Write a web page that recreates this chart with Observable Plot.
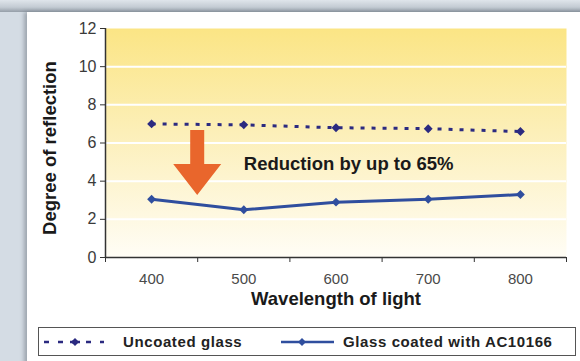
<!DOCTYPE html>
<html>
<head>
<meta charset="utf-8">
<script src="https://cdn.jsdelivr.net/npm/d3@7"></script>
<script src="https://cdn.jsdelivr.net/npm/@observablehq/plot@0.6"></script>
<style>
  html, body { margin: 0; padding: 0; }
  body { width: 580px; height: 361px; overflow: hidden; position: relative;
         background: #d4dce4; font-family: "Liberation Sans", Arial, sans-serif; }
  #topstrip { position: absolute; left: 0; top: 0; width: 580px; height: 12px;
              background: linear-gradient(to bottom, #dfe5eb 0%, #c3cbd3 60%, #959ea8 100%); }
  #card { position: absolute; left: 27px; top: 12px; width: 560px; height: 360px; background: #ffffff;
          box-shadow: -3px 0 4px rgba(90,100,110,0.45); }
  #chart { position: absolute; left: 0; top: 0; }
  #legend { position: absolute; left: 38px; top: 327px; width: 538px; height: 29px;
            border: 1.5px solid #555; background: #fff; box-sizing: border-box;
            font-weight: bold; font-size: 15px; letter-spacing: 0.6px; color: #222; }
  #legend .item { position: absolute; top: 0; height: 100%; display: flex; align-items: center; }
  #legend svg { display: block; }
</style>
</head>
<body>
<div id="topstrip"></div>
<div id="card"></div>
<div id="chart"></div>
<div id="legend"></div>
<script>
// ---- data ----
const wavelengths = [400, 500, 600, 700, 800];
const uncoated = [7.0, 6.95, 6.8, 6.75, 6.6];
const coated = [3.05, 2.5, 2.9, 3.05, 3.3];
const yTicks = [0, 2, 4, 6, 8, 10, 12];
const xBounds = [350, 450, 550, 650, 750, 850];
const seriesNames = ["Uncoated glass", "Glass coated with AC10166"];
const xTitle = "Wavelength of light";
const yTitle = "Degree of reflection";
const note = "Reduction by up to 65%";
const noteAt = {x: 500, y: 4.9};
const arrowAt = {x: 450, from: 6.65, to: 3.25};

const colUncoated = "#2b2a80";
const colCoated = "#2f4e9e";
const colArrow = "#e9662c";

const rowsU = wavelengths.map((w, i) => ({w, v: uncoated[i]}));
const rowsC = wavelengths.map((w, i) => ({w, v: coated[i]}));

function defsMark() {
  const defs = d3.create("svg:defs");
  const g = defs.append("linearGradient").attr("id", "plotbg")
    .attr("x1", 0).attr("y1", 0).attr("x2", 0).attr("y2", 1);
  g.append("stop").attr("offset", "0%").attr("stop-color", "#fbe585");
  g.append("stop").attr("offset", "45%").attr("stop-color", "#fcefb8");
  g.append("stop").attr("offset", "100%").attr("stop-color", "#fffdf6");
  return defs.node();
}

function arrowMark(index, scales) {
  const x = scales.x(arrowAt.x);
  const y0 = scales.y(arrowAt.from);
  const y1 = scales.y(arrowAt.to);
  const shaftHalf = 7, headHalf = 24, headLen = 31;
  const yh = y1 - headLen;
  const p = [[x - shaftHalf, y0], [x + shaftHalf, y0], [x + shaftHalf, yh], [x + headHalf, yh],
             [x, y1], [x - headHalf, yh], [x - shaftHalf, yh]];
  const g = d3.create("svg:g");
  g.append("path").attr("d", "M" + p.map(d => d.join(",")).join("L") + "Z").attr("fill", colArrow);
  return g.node();
}

const plot = Plot.plot({
  width: 580,
  height: 320,
  marginLeft: 105,
  marginRight: 14,
  marginTop: 28,
  marginBottom: 63,
  x: {domain: [350, 850], label: null},
  y: {domain: [0, 12], label: null},
  style: {fontFamily: "'Liberation Sans', Arial, sans-serif", background: "transparent", overflow: "visible"},
  marks: [
    defsMark,
    Plot.frame({fill: "url(#plotbg)", stroke: null}),
    Plot.gridY(yTicks.slice(1, -1), {stroke: "#ffffff", strokeOpacity: 1, strokeWidth: 2}),
    Plot.axisY({ticks: yTicks, tickSize: 5, tickPadding: 4, fontSize: 16, fill: "#3a3a3a", stroke: "#333", label: null}),
    Plot.axisX({ticks: wavelengths, tickSize: 0, tickPadding: 16, fontSize: 15, fill: "#4a4a4a", label: null, tickFormat: d => String(d), ariaLabel: "xtl"}),
    Plot.axisX({ticks: xBounds, tickSize: 5, tickFormat: () => "", stroke: "#333", label: null}),
    Plot.ruleX([350], {stroke: "#333", strokeWidth: 1.5}),
    Plot.ruleY([0], {stroke: "#333", strokeWidth: 1.5}),
    Plot.line(rowsU, {x: "w", y: "v", stroke: colUncoated, strokeWidth: 3, strokeDasharray: "4,7", strokeLinecap: "butt"}),
    Plot.dot(rowsU, {x: "w", y: "v", symbol: "diamond2", fill: colUncoated, r: 4}),
    Plot.line(rowsC, {x: "w", y: "v", stroke: colCoated, strokeWidth: 3}),
    Plot.dot(rowsC, {x: "w", y: "v", symbol: "diamond2", fill: colCoated, r: 4}),
    arrowMark,
    Plot.text([note], {x: () => noteAt.x, y: () => noteAt.y, text: d => d, textAnchor: "start", fontSize: 18.5, fontWeight: "bold", fill: "#1a1a1a", ariaLabel: "wide13"}),
    Plot.text([xTitle], {frameAnchor: "bottom", dy: 47, text: d => d, fontSize: 18.5, fontWeight: "bold", fill: "#1a1a1a", ariaLabel: "wide13"}),
    Plot.text([yTitle], {frameAnchor: "left", textAnchor: "middle", dx: -55, dy: 5, rotate: -90, text: d => d, fontSize: 18.5, fontWeight: "bold", fill: "#1a1a1a", ariaLabel: "wide15"})
  ]
});
d3.select(plot).selectAll('g[aria-label="wide13"] text').style("letter-spacing", "1.3px");
d3.select(plot).selectAll('g[aria-label="wide15"] text').style("letter-spacing", "1.4px");
d3.select(plot).selectAll('g[aria-label="xtl"] text').style("letter-spacing", "1px");
document.getElementById("chart").appendChild(plot);

// legend
const legend = document.getElementById("legend");
function item(left, svgInner, label, textLeft) {
  const s = document.createElement("div");
  s.className = "item";
  s.style.left = left + "px";
  s.innerHTML = `<svg width="60" height="12" viewBox="0 0 60 12">${svgInner}</svg>`;
  legend.appendChild(s);
  const t = document.createElement("div");
  t.className = "item";
  t.style.left = textLeft + "px";
  t.textContent = label;
  legend.appendChild(t);
}
item(5, `<line x1="0" y1="6" x2="60" y2="6" stroke="${colUncoated}" stroke-width="2.5" stroke-dasharray="5,9"/><path d="M31,2 L35,6 L31,10 L27,6Z" fill="${colUncoated}"/><line x1="26" y1="6" x2="36" y2="6" stroke="${colUncoated}" stroke-width="2.5"/>`, seriesNames[0], 84);
item(240, `<line x1="2" y1="6" x2="55" y2="6" stroke="${colCoated}" stroke-width="2.5"/><path d="M23,2 L27,6 L23,10 L19,6Z" fill="${colCoated}"/>`, seriesNames[1], 304);
</script>
</body>
</html>
